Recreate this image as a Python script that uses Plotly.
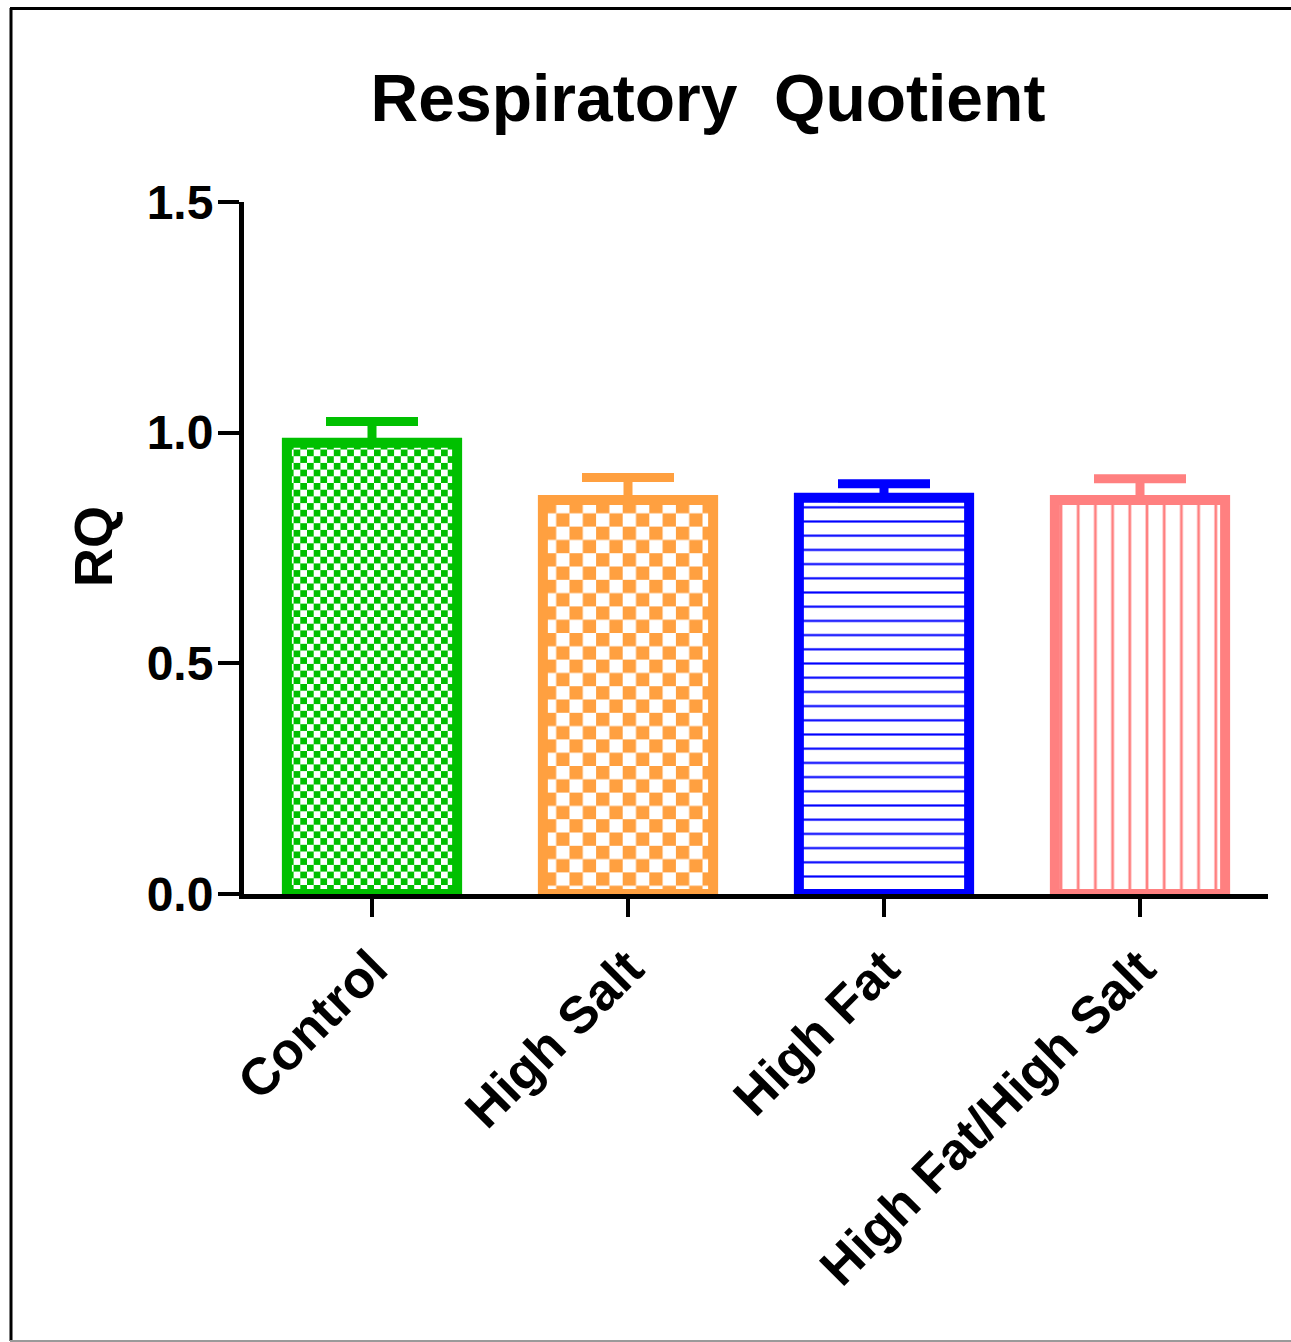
import base64
import plotly.graph_objects as go

# ---- data ----
categories = ["Control", "High Salt", "High Fat", "High Fat/High Salt"]
rq_mean = [0.978, 0.854, 0.859, 0.854]
rq_sem = [0.046, 0.049, 0.030, 0.046]
y_ticks = [0.0, 0.5, 1.0, 1.5]
y_tick_labels = ["0.0", "0.5", "1.0", "1.5"]

# ---- style ----
colors = ["#00C000", "#FFA040", "#0000FF", "#FF8080"]
fills = ["checker", "checker", "-", "|"]
checker_cell = [6.7, 13.3, None, None]
pattern_size = [None, None, 14.2, 17.2]
pattern_solid = [None, None, 0.15, 0.16]

W, H = 1291, 1342
ML, MR, MT, MB = 244, 23, 202, 448
plot_w = W - ML - MR
plot_h = H - MT - MB
x_range = [-0.5, 3.5]
y_range = [0, 1.5]
ppu_x = plot_w / (x_range[1] - x_range[0])
ppu_y = plot_h / (y_range[1] - y_range[0])
bar_w = 0.665
FONT = "Liberation Sans, Arial, sans-serif"


def checker_uri(w, h, c, color):
    c2 = 2 * c
    svg = (
        f'<svg xmlns="http://www.w3.org/2000/svg" width="{w:.1f}" height="{h:.1f}" '
        f'viewBox="0 0 {w:.1f} {h:.1f}" preserveAspectRatio="none">'
        f'<defs><pattern id="p" width="{c2}" height="{c2}" patternUnits="userSpaceOnUse">'
        f'<rect width="{c2}" height="{c2}" fill="white"/>'
        f'<rect width="{c}" height="{c}" fill="{color}"/>'
        f'<rect x="{c}" y="{c}" width="{c}" height="{c}" fill="{color}"/>'
        f'</pattern></defs><rect width="{w:.1f}" height="{h:.1f}" fill="url(#p)"/></svg>'
    )
    return "data:image/svg+xml;base64," + base64.b64encode(svg.encode()).decode()


fig = go.Figure()
images = []
for i, cat in enumerate(categories):
    col = colors[i]
    if fills[i] == "checker":
        marker = dict(color="rgba(0,0,0,0)", line=dict(color=col, width=10))
        images.append(dict(
            source=checker_uri(bar_w * ppu_x, rq_mean[i] * ppu_y, checker_cell[i], col),
            xref="x", yref="y", x=i - bar_w / 2, y=rq_mean[i],
            sizex=bar_w, sizey=rq_mean[i], xanchor="left", yanchor="top",
            sizing="stretch", layer="below",
        ))
    else:
        marker = dict(
            color="white", line=dict(color=col, width=10),
            pattern=dict(shape=fills[i], size=pattern_size[i], solidity=pattern_solid[i],
                         fgcolor=col, bgcolor="white", fillmode="replace"),
        )
    fig.add_trace(go.Bar(
        x=[cat], y=[rq_mean[i]], width=bar_w, marker=marker, showlegend=False,
        error_y=dict(type="data", symmetric=False, array=[rq_sem[i]], arrayminus=[0],
                     color=col, thickness=9, width=46),
    ))


def px_x(p):
    return (p - ML) / plot_w


def px_y(p):
    return (H - MB - p) / plot_h


# border of the original graphic
shapes = [
    dict(type="line", xref="paper", yref="paper", x0=px_x(11), x1=px_x(11),
         y0=px_y(8), y1=px_y(1341), line=dict(color="black", width=3), layer="above"),
    dict(type="line", xref="paper", yref="paper", x0=px_x(10), x1=px_x(1300),
         y0=px_y(8.5), y1=px_y(8.5), line=dict(color="black", width=3), layer="above"),
    dict(type="line", xref="paper", yref="paper", x0=px_x(10), x1=px_x(1300),
         y0=px_y(1341), y1=px_y(1341), line=dict(color="#9a9a9a", width=2), layer="above"),
]

fig.update_layout(
    width=W, height=H, autosize=False,
    margin=dict(l=ML, r=MR, t=MT, b=MB, pad=0),
    paper_bgcolor="white", plot_bgcolor="rgba(0,0,0,0)",
    barmode="overlay",
    font=dict(family=FONT, color="black"),
    title=dict(text="Respiratory  Quotient", x=708 / W, xref="container", xanchor="center",
               y=1 - 98 / H, yref="container", yanchor="middle",
               font=dict(family=FONT, size=66, weight="bold", color="black")),
    xaxis=dict(range=x_range, showline=True, linecolor="black", linewidth=5,
               ticks="outside", ticklen=18, tickwidth=4, tickcolor="black",
               tickangle=-45, showgrid=False, zeroline=False,
               tickfont=dict(family=FONT, size=52, weight="bold", color="black")),
    yaxis=dict(range=y_range, showline=True, linecolor="black", linewidth=5,
               ticks="outside", ticklen=21, tickwidth=4, tickcolor="black",
               ticklabelstandoff=-5,
               tickvals=y_ticks, ticktext=y_tick_labels, showgrid=False, zeroline=False,
               tickfont=dict(family=FONT, size=48, weight="bold", color="black")),
    images=images,
    shapes=shapes,
    annotations=[dict(text="RQ", textangle=-90, xref="paper", yref="paper",
                      x=px_x(93), y=px_y(547), xanchor="center", yanchor="middle",
                      showarrow=False,
                      font=dict(family=FONT, size=54, weight="bold", color="black"))],
)

fig.write_html("out.html")
